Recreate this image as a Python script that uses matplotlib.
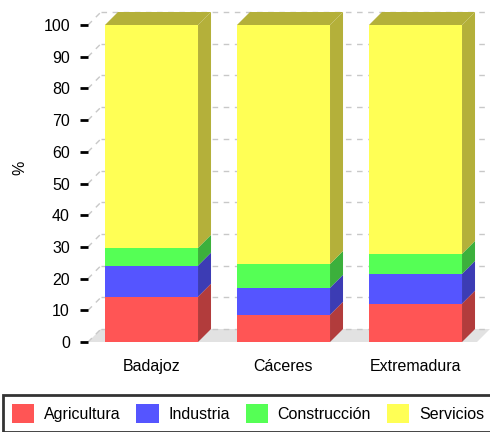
import numpy as np
import matplotlib
matplotlib.use("Agg")
import matplotlib.pyplot as plt
from matplotlib.patches import Polygon, Patch

plt.rcParams['font.family'] = ['Liberation Sans', 'DejaVu Sans']

# datos (% del empleo por sector)
regiones = ['Badajoz', 'Cáceres', 'Extremadura']
sectores = ['Agricultura', 'Industria', 'Construcción', 'Servicios']
agricultura = [14.3, 8.6, 12.1]
industria = [9.8, 8.5, 9.4]
construccion = [5.6, 7.5, 6.3]
servicios = [70.3, 75.4, 72.2]

colores = ['#ff5555', '#5555ff', '#55ff55', '#ffff55']
laterales = ['#b23c3c', '#3c3cb4', '#3cb03c', '#b4b03a']
fs = 11.5

fig = plt.figure(figsize=(4.9, 4.32), dpi=100)
ax = fig.add_axes([88/490, 90/432, 389/490, 317/432])
ax.set_xlim(-0.481, 2.466)
ax.set_ylim(0, 100)

# profundidad 3D en unidades de datos (13 px)
p0 = ax.transData.transform((0, 0))
ddx, ddy = ax.transData.inverted().transform(p0 + np.array([13, 13]))

x0, x1 = ax.get_xlim()
# suelo
ax.add_patch(Polygon([(x0, 0), (x0 + ddx, ddy), (x1 + ddx, ddy), (x1, 0)],
                     closed=True, facecolor='#e2e2e2', edgecolor='none',
                     zorder=0, clip_on=False))
# rejilla
for v in range(0, 101, 10):
    ax.plot([x0 + ddx, x1 + ddx], [v + ddy, v + ddy], color='#c8c8c8',
            lw=1, ls=(0, (4, 4)), zorder=0.5, clip_on=False)
    ax.plot([x0, x0 + ddx], [v, v + ddy], color='#c8c8c8', lw=1,
            ls=(0, (4, 4)), zorder=0.5, clip_on=False)

x = np.arange(len(regiones))
ancho = 0.705
series = [agricultura, industria, construccion, servicios]
base = np.zeros(len(regiones))
for vals, c, cl, nombre in zip(series, colores, laterales, sectores):
    vals = np.array(vals)
    ax.bar(x, vals, ancho, bottom=base, color=c, edgecolor='none',
           zorder=3, clip_on=False, label=nombre)
    for i in range(len(x)):
        xr = x[i] + ancho / 2
        y0, y1 = base[i], base[i] + vals[i]
        ax.add_patch(Polygon([(xr, y0), (xr, y1), (xr + ddx, y1 + ddy),
                              (xr + ddx, y0 + ddy)], closed=True,
                             facecolor=cl, edgecolor='none', zorder=2,
                             clip_on=False))
    base = base + vals

# tapas superiores
for i in range(len(x)):
    xl, xr = x[i] - ancho / 2, x[i] + ancho / 2
    top = base[i]
    ax.add_patch(Polygon([(xl, top), (xl + ddx, top + ddy),
                          (xr + ddx, top + ddy), (xr, top)], closed=True,
                         facecolor=laterales[3], edgecolor='none', zorder=2,
                         clip_on=False))

for s in ax.spines.values():
    s.set_visible(False)
ax.set_yticks(range(0, 101, 10))
ax.tick_params(axis='y', length=6, width=2, pad=7, labelsize=fs)
ax.set_xticks(x)
ax.set_xticklabels(regiones)
ax.tick_params(axis='x', length=0, pad=12, labelsize=fs)
ax.set_ylabel('%', fontsize=fs)
ax.yaxis.set_label_coords(-0.155, 0.55)

handles = [Patch(facecolor=c, edgecolor='none') for c in colores]
leg = fig.legend(handles, sectores, loc='upper left',
                 bbox_to_anchor=(3/490, 1 - 395/432), ncol=4,
                 fontsize=fs, frameon=True, fancybox=False,
                 handlelength=1.4, handleheight=1.5, handletextpad=0.6,
                 columnspacing=1.0, borderpad=0.55, borderaxespad=0)
leg.get_frame().set_edgecolor('black')
leg.get_frame().set_linewidth(2)

fig.savefig('out.png', dpi=100)
